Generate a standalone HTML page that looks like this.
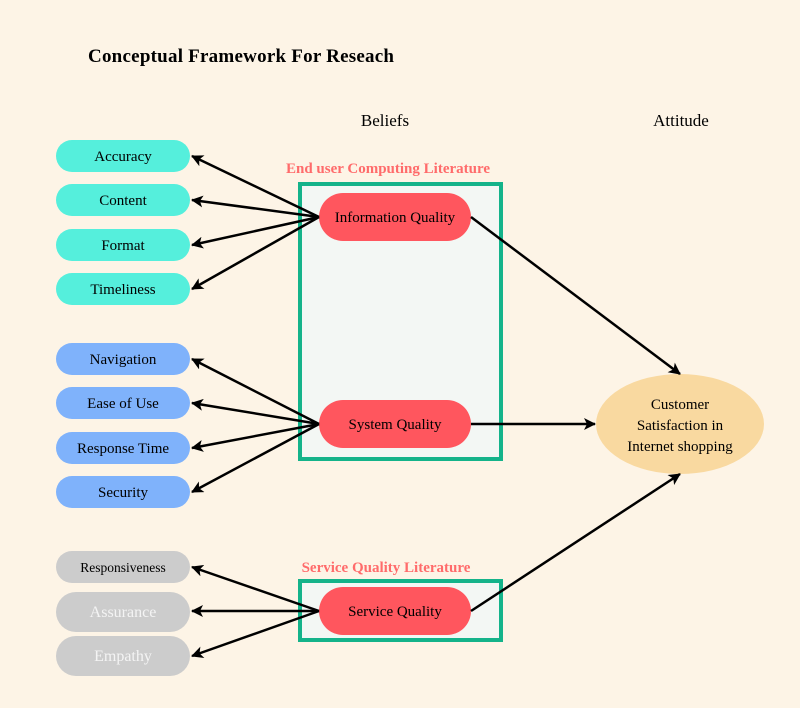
<!DOCTYPE html>
<html><head><style>
body{margin:0;background:#fdf4e6;}
svg{display:block;font-family:"Liberation Serif",serif;}
</style></head><body>
<svg width="800" height="708" viewBox="0 0 800 708">
<defs><marker id="a" markerWidth="12" markerHeight="12" refX="11" refY="6" orient="auto" markerUnits="userSpaceOnUse"><path d="M0,0 L12,6 L0,12 L3,6 z" fill="#000"/></marker></defs>
<rect width="800" height="708" fill="#fdf4e6"/>
<text x="88" y="62" font-size="19" font-weight="bold" textLength="306">Conceptual Framework For Reseach</text>
<text x="385" y="126" font-size="17" text-anchor="middle">Beliefs</text>
<text x="681" y="126" font-size="17" text-anchor="middle">Attitude</text>
<text x="388" y="173" font-size="15" font-weight="bold" fill="#ff6b6b" text-anchor="middle">End user Computing Literature</text>
<text x="386" y="572" font-size="15" font-weight="bold" fill="#ff6b6b" text-anchor="middle">Service Quality Literature</text>
<rect x="300" y="184" width="201" height="275" fill="#f3f7f4" stroke="#14b38a" stroke-width="4"/>
<rect x="300" y="581" width="201" height="59" fill="#f3f7f4" stroke="#14b38a" stroke-width="4"/>
<g font-size="15" text-anchor="middle">
<rect x="56" y="140" width="134" height="32" rx="16" fill="#55efdc"/><text x="123" y="161">Accuracy</text>
<rect x="56" y="184" width="134" height="32" rx="16" fill="#55efdc"/><text x="123" y="205">Content</text>
<rect x="56" y="229" width="134" height="32" rx="16" fill="#55efdc"/><text x="123" y="250">Format</text>
<rect x="56" y="273" width="134" height="32" rx="16" fill="#55efdc"/><text x="123" y="294">Timeliness</text>
<rect x="56" y="343" width="134" height="32" rx="16" fill="#7fb2fb"/><text x="123" y="364">Navigation</text>
<rect x="56" y="387" width="134" height="32" rx="16" fill="#7fb2fb"/><text x="123" y="408">Ease of Use</text>
<rect x="56" y="432" width="134" height="32" rx="16" fill="#7fb2fb"/><text x="123" y="453">Response Time</text>
<rect x="56" y="476" width="134" height="32" rx="16" fill="#7fb2fb"/><text x="123" y="497">Security</text>
<rect x="56" y="551" width="134" height="32" rx="16" fill="#cccccc"/><text x="123" y="572" font-size="13.5">Responsiveness</text>
<rect x="56" y="592" width="134" height="40" rx="20" fill="#cccccc"/><text x="123" y="617" fill="#f4f4f4" font-size="16">Assurance</text>
<rect x="56" y="636" width="134" height="40" rx="20" fill="#cccccc"/><text x="123" y="661" fill="#f4f4f4" font-size="16">Empathy</text>
<rect x="319" y="193" width="152" height="48" rx="24" fill="#ff565e"/><text x="395" y="222">Information Quality</text>
<rect x="319" y="400" width="152" height="48" rx="24" fill="#ff565e"/><text x="395" y="429">System Quality</text>
<rect x="319" y="587" width="152" height="48" rx="24" fill="#ff565e"/><text x="395" y="616">Service Quality</text>
<ellipse cx="680" cy="424" rx="84" ry="50" fill="#f9d9a0"/>
<text x="680" y="409">Customer</text><text x="680" y="430">Satisfaction in</text><text x="680" y="451">Internet shopping</text>
</g>
<g stroke="#000" stroke-width="2.5" fill="none" marker-end="url(#a)">
<line x1="319" y1="217" x2="192" y2="156"/>
<line x1="319" y1="217" x2="192" y2="200"/>
<line x1="319" y1="217" x2="192" y2="245"/>
<line x1="319" y1="217" x2="192" y2="289"/>
<line x1="319" y1="424" x2="192" y2="359"/>
<line x1="319" y1="424" x2="192" y2="403"/>
<line x1="319" y1="424" x2="192" y2="448"/>
<line x1="319" y1="424" x2="192" y2="492"/>
<line x1="319" y1="611" x2="192" y2="567"/>
<line x1="319" y1="611" x2="192" y2="611"/>
<line x1="319" y1="611" x2="192" y2="656"/>
<line x1="471" y1="217" x2="680" y2="374"/>
<line x1="471" y1="424" x2="595" y2="424"/>
<line x1="471" y1="611" x2="680" y2="474"/>
</g>
</svg>
</body></html>
